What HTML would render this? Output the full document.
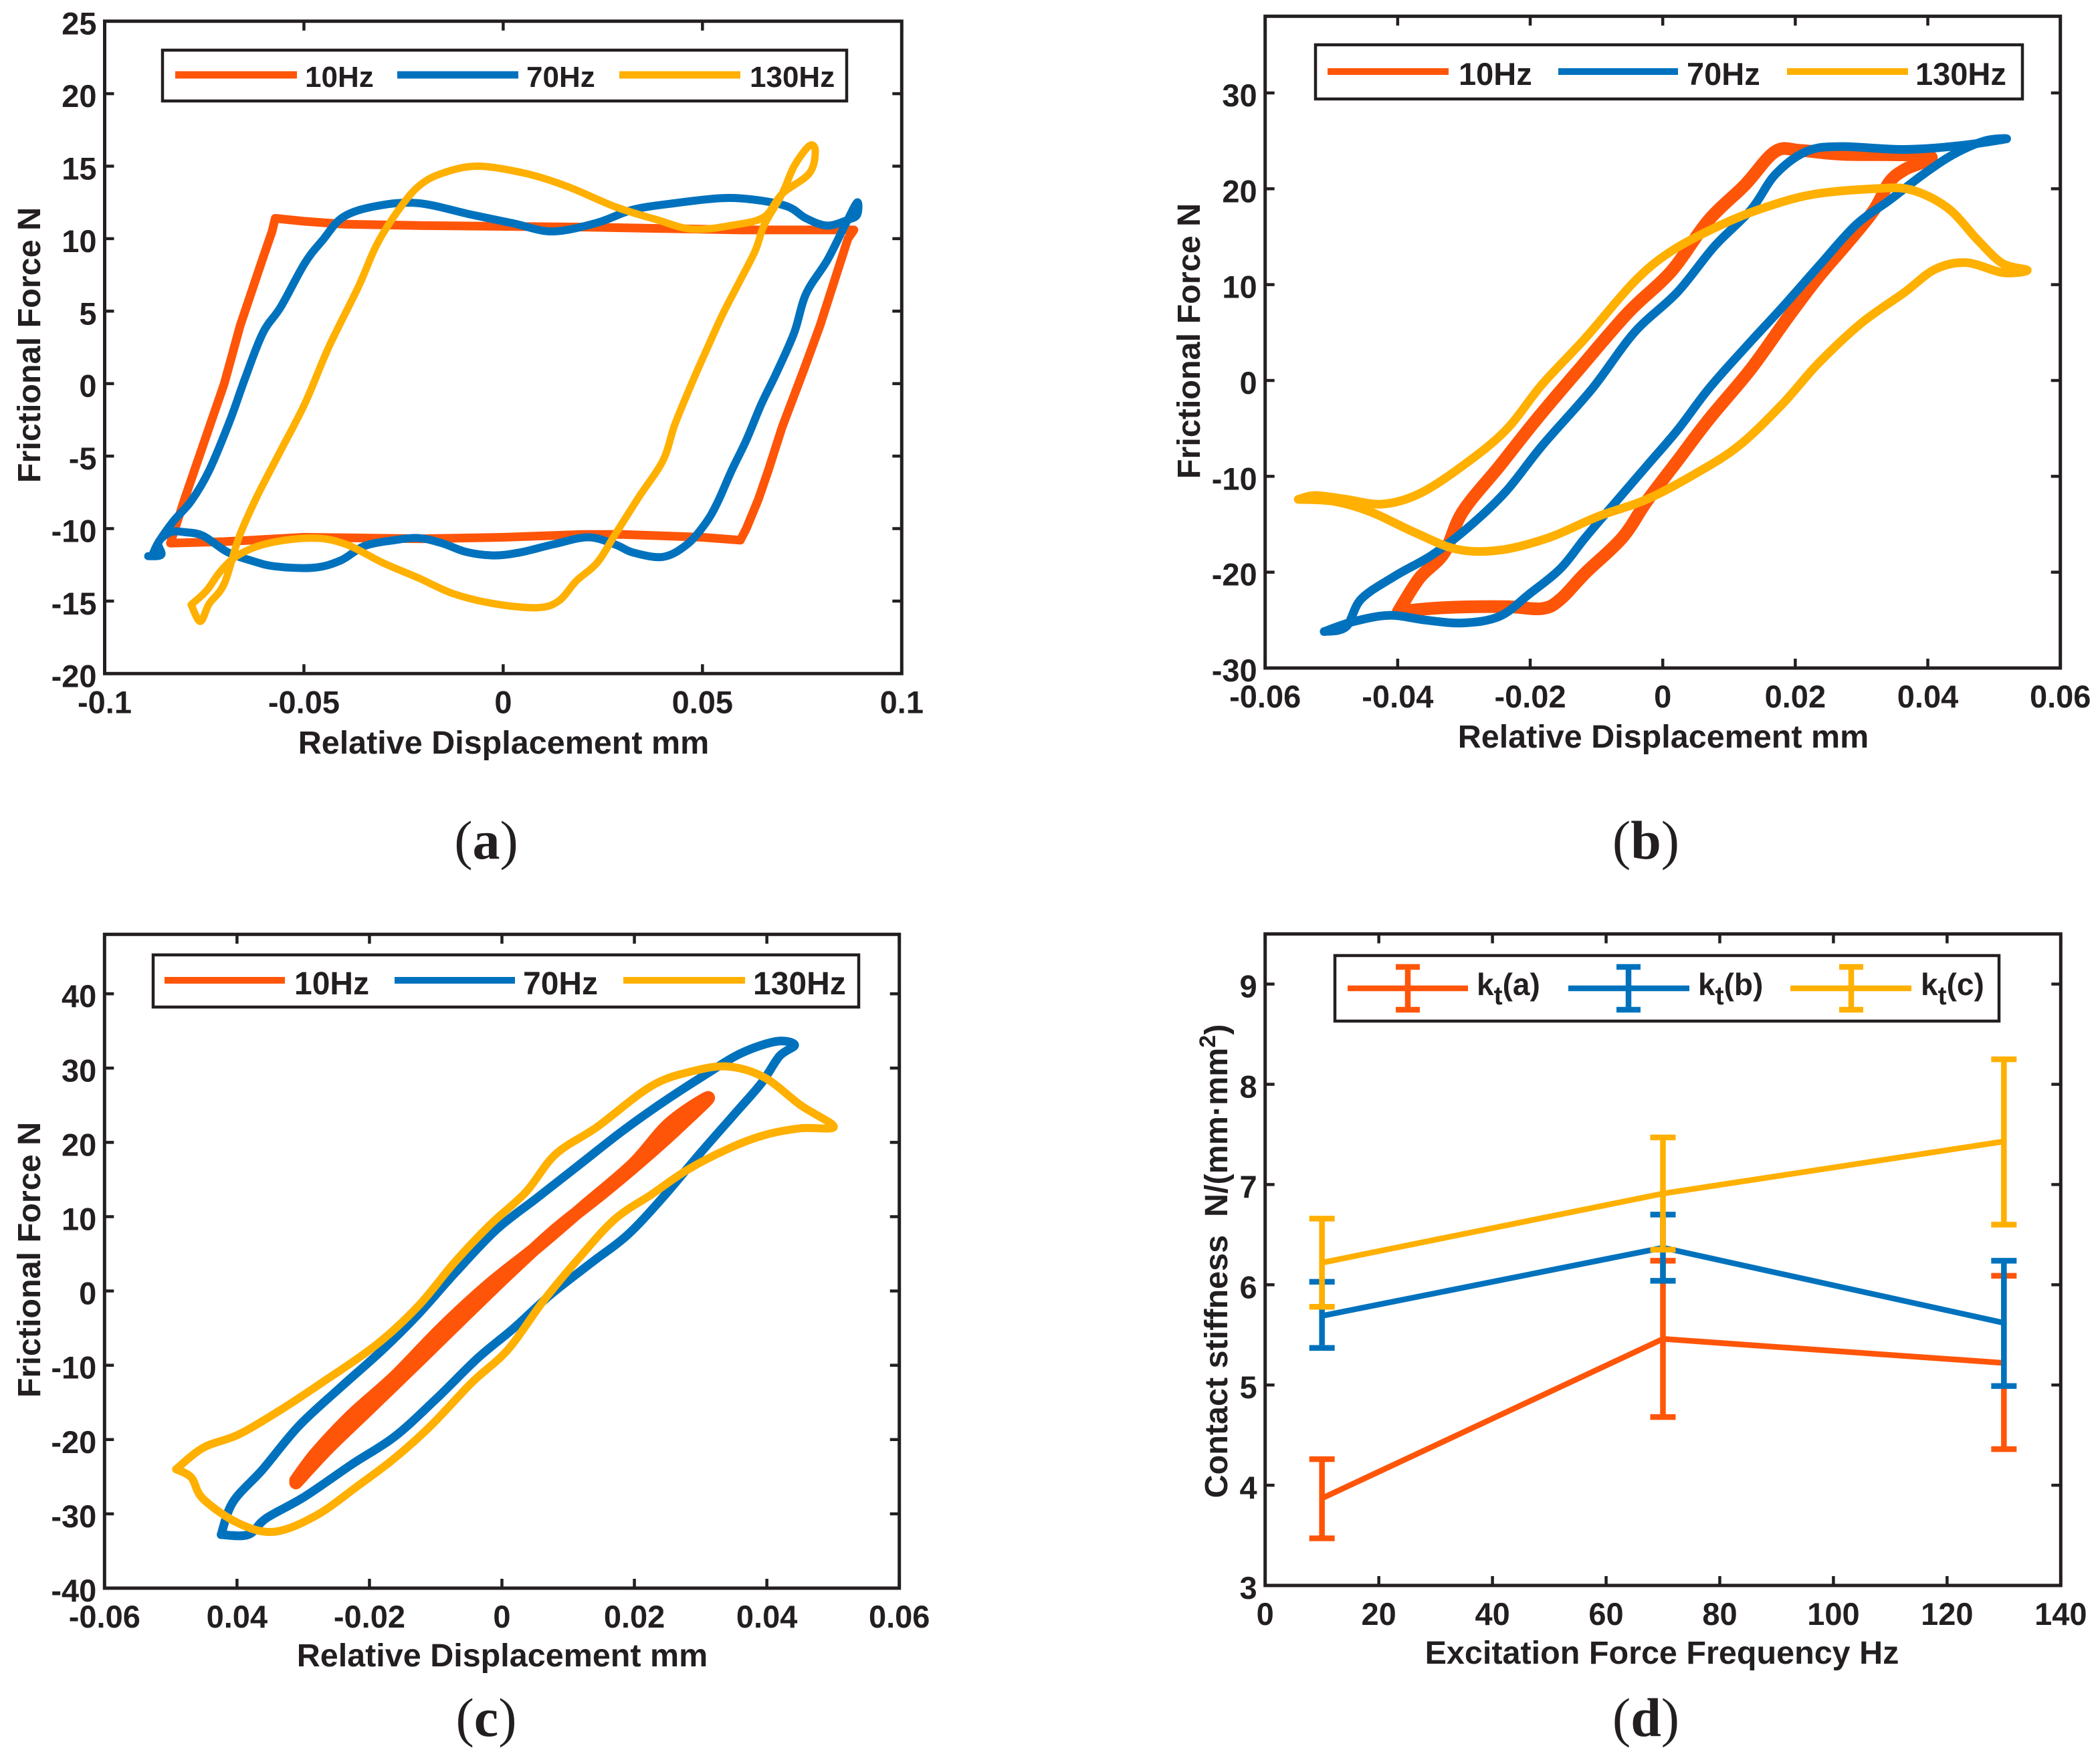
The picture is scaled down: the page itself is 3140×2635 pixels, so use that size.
<!DOCTYPE html>
<html lang="en">
<head>
<meta charset="utf-8">
<title>Frictional hysteresis loops and contact stiffness</title>
<style>
html,body{margin:0;padding:0;background:#fff;}
svg{display:block;}
text{font-family:"Liberation Sans",sans-serif;font-weight:bold;fill:#231f20;}
.cap{font-family:"Liberation Serif",serif;font-weight:normal;font-size:82px;text-anchor:middle;}
.cap tspan{font-weight:bold;}
.axt{font-size:48.5px;text-anchor:middle;}
</style>
</head>
<body>
<svg id="figure" xmlns="http://www.w3.org/2000/svg" width="3140" height="2635" viewBox="0 0 3140 2635">
<rect x="0" y="0" width="3140" height="2635" fill="#fff"/>

<g id="panel-a">
  <g id="a-marks"></g>
  <g id="a-axes"></g>
  <text class="axt" x="753" y="1127">Relative Displacement mm</text>
  <text class="axt" transform="translate(60,516) rotate(-90)">Frictional Force N</text>
  <g>
    <rect x="243" y="75" width="1023" height="76" fill="#fff" stroke="#231f20" stroke-width="4.5"/>
    <line x1="262" x2="444" y1="112" y2="112" stroke="#ff5509" stroke-width="11"/>
    <text x="456" y="130" font-size="44">10Hz</text>
    <line x1="594" x2="775" y1="112" y2="112" stroke="#0072bd" stroke-width="11"/>
    <text x="787" y="130" font-size="44">70Hz</text>
    <line x1="926" x2="1107" y1="112" y2="112" stroke="#ffb000" stroke-width="11"/>
    <text x="1121" y="130" font-size="44">130Hz</text>
  </g>
  <text class="cap" x="727" y="1284">(<tspan>a</tspan>)</text>
</g>

<g id="panel-b">
  <g id="b-marks"></g>
  <g id="b-axes"></g>
  <text class="axt" x="2487" y="1118">Relative Displacement mm</text>
  <text class="axt" transform="translate(1794,510) rotate(-90)">Frictional Force N</text>
  <g>
    <rect x="1967" y="67" width="1057" height="81" fill="#fff" stroke="#231f20" stroke-width="4.5"/>
    <line x1="1985" x2="2166" y1="107" y2="107" stroke="#ff5509" stroke-width="10"/>
    <text x="2181" y="127" font-size="47">10Hz</text>
    <line x1="2330" x2="2509" y1="107" y2="107" stroke="#0072bd" stroke-width="10"/>
    <text x="2522" y="127" font-size="47">70Hz</text>
    <line x1="2672" x2="2853" y1="107" y2="107" stroke="#ffb000" stroke-width="10"/>
    <text x="2864" y="127" font-size="47">130Hz</text>
  </g>
  <text class="cap" x="2461" y="1284">(<tspan>b</tspan>)</text>
</g>

<g id="panel-c">
  <g id="c-marks"></g>
  <g id="c-axes"></g>
  <text class="axt" x="751" y="2492">Relative Displacement mm</text>
  <text class="axt" transform="translate(60,1884) rotate(-90)">Frictional Force N</text>
  <g>
    <rect x="229" y="1428" width="1055" height="78" fill="#fff" stroke="#231f20" stroke-width="4.5"/>
    <line x1="246" x2="426" y1="1466" y2="1466" stroke="#ff5509" stroke-width="10"/>
    <text x="440" y="1487" font-size="48">10Hz</text>
    <line x1="590" x2="770" y1="1466" y2="1466" stroke="#0072bd" stroke-width="10"/>
    <text x="782" y="1487" font-size="48">70Hz</text>
    <line x1="932" x2="1114" y1="1466" y2="1466" stroke="#ffb000" stroke-width="10"/>
    <text x="1126" y="1487" font-size="48">130Hz</text>
  </g>
  <text class="cap" x="727" y="2596">(<tspan>c</tspan>)</text>
</g>

<g id="panel-d">
  <g id="d-marks"></g>
  <g id="d-axes"></g>
  <text class="axt" x="2485" y="2488">Excitation Force Frequency Hz</text>
  <text class="axt" transform="translate(1835,1886) rotate(-90)">Contact stiffness&#160;&#160;N/(mm·mm<tspan dy="-18" font-size="34">2</tspan><tspan dy="18">)</tspan></text>
  <g>
    <rect x="1996" y="1429" width="993" height="98" fill="#fff" stroke="#231f20" stroke-width="4.5"/>
    <g stroke="#ff5509" stroke-width="8.5" fill="none">
      <line x1="2015" x2="2195" y1="1478" y2="1478"/><line x1="2105" x2="2105" y1="1446" y2="1510"/><line x1="2087" x2="2123" y1="1446" y2="1446"/><line x1="2087" x2="2123" y1="1510" y2="1510"/>
    </g>
    <text x="2208" y="1488" font-size="46">k<tspan dy="14" font-size="39">t</tspan><tspan dy="-14">(a)</tspan></text>
    <g stroke="#0072bd" stroke-width="8.5" fill="none">
      <line x1="2345" x2="2526" y1="1478" y2="1478"/><line x1="2435" x2="2435" y1="1446" y2="1510"/><line x1="2417" x2="2453" y1="1446" y2="1446"/><line x1="2417" x2="2453" y1="1510" y2="1510"/>
    </g>
    <text x="2539" y="1488" font-size="46">k<tspan dy="14" font-size="39">t</tspan><tspan dy="-14">(b)</tspan></text>
    <g stroke="#ffb000" stroke-width="8.5" fill="none">
      <line x1="2677" x2="2858" y1="1478" y2="1478"/><line x1="2768" x2="2768" y1="1446" y2="1510"/><line x1="2750" x2="2786" y1="1446" y2="1446"/><line x1="2750" x2="2786" y1="1510" y2="1510"/>
    </g>
    <text x="2872" y="1488" font-size="46">k<tspan dy="14" font-size="39">t</tspan><tspan dy="-14">(c)</tspan></text>
  </g>
  <text class="cap" x="2461" y="2596">(<tspan>d</tspan>)</text>
</g>
</svg>

<script>
// Panel (a) data
const aX10 = [-0.0835,-0.08,-0.075,-0.07,-0.066,-0.0605,-0.058,-0.0572,-0.05,-0.04,-0.02,0,0.02,0.04,0.06,0.088,0.0865,0.083,0.0795,0.0755,0.07,0.0665,0.064,0.061,0.0595,0.05,0.03,0.02,0,-0.02,-0.05,-0.07,-0.0835];
const aY10 = [-11,-8,-4,0,4,8.5,10.5,11.4,11.2,11,10.9,10.85,10.8,10.7,10.6,10.6,10,7,4,1,-3,-6,-8,-10,-10.8,-10.6,-10.4,-10.4,-10.6,-10.7,-10.6,-10.9,-11];
const aX70 = [-0.0891,-0.0858,-0.0865,-0.0835,-0.0798,-0.0753,-0.0693,-0.0633,-0.0573,-0.0476,-0.0408,-0.0348,-0.0273,-0.0213,-0.0154,-0.0094,-0.0026,0.0041,0.0124,0.0213,0.0281,0.0326,0.0401,0.0461,0.0506,0.0536,0.0573,0.061,0.0648,0.0685,0.073,0.076,0.0813,0.0858,0.0888,0.0888,0.0865,0.0813,0.076,0.0715,0.064,0.0551,0.0431,0.0326,0.0236,0.0124,0.0026,-0.0079,-0.0213,-0.0318,-0.0401,-0.0453,-0.0498,-0.0558,-0.0603,-0.0648,-0.0685,-0.0738,-0.0783,-0.0828,-0.0865,-0.088];
const aY70 = [-11.9,-11.8,-10.95,-10.25,-10.25,-10.5,-11.6,-12.2,-12.6,-12.7,-12.2,-11.2,-10.8,-10.65,-11,-11.6,-11.85,-11.65,-11.1,-10.6,-11.1,-11.65,-11.95,-11.1,-9.7,-8.3,-6,-3.9,-1.4,0.7,3.5,6.2,8.5,10.95,12.5,11.65,11.3,10.9,11.4,12.2,12.65,12.8,12.45,12,11.1,10.5,11.05,11.65,12.45,12.25,11.5,9.9,8.3,5.3,3.5,0.35,-2.5,-6,-8.1,-9.5,-10.95,-11.8];
const aX130 = [-0.0783,-0.0745,-0.0708,-0.0663,-0.0588,-0.0476,-0.0393,-0.0303,-0.0213,-0.0124,-0.0019,0.0086,0.0139,0.0184,0.0236,0.0281,0.0341,0.0401,0.0431,0.0476,0.0513,0.0551,0.0596,0.0633,0.0655,0.07,0.073,0.0768,0.0783,0.0768,0.07,0.0655,0.0581,0.0476,0.0386,0.0281,0.0161,0.0056,-0.0064,-0.0154,-0.0213,-0.0266,-0.0318,-0.0363,-0.0438,-0.0498,-0.0558,-0.0618,-0.0663,-0.07,-0.0738,-0.076,-0.0783];
const aY130 = [-15.25,-14.3,-12.9,-11.8,-11,-10.65,-11.1,-12.35,-13.4,-14.5,-15.2,-15.45,-15,-13.6,-12.35,-10.4,-7.8,-5.3,-2.8,0.2,2.5,4.8,7.2,9.2,10.95,13.1,15,16.4,16.05,14.5,13.1,11.5,10.95,10.65,11.3,12.2,13.6,14.5,15,14.5,13.6,11.85,9.55,6.7,2.5,-1.4,-4.6,-7.8,-10.6,-13.8,-15.2,-16.4,-15.25];
const aXTicks = [-0.1,-0.05,0,0.05,0.1];
const aXLabels = ['-0.1','-0.05','0','0.05','0.1'];
const aYTicks = [-20,-15,-10,-5,0,5,10,15,20,25];
const aYLabels = ['-20','-15','-10','-5','0','5','10','15','20','25'];

// Panel (b) data
const bX10 = [-0.0399,-0.0367,-0.033,-0.0302,-0.0246,-0.0191,-0.0126,-0.0052,0.0013,0.0069,0.0124,0.017,0.0208,0.0272,0.0402,0.0365,0.0342,0.0319,0.0282,0.0235,0.0189,0.0133,0.0069,0.0022,-0.0024,-0.0061,-0.0117,-0.0154,-0.0182,-0.0237,-0.033,-0.0399];
const bY10 = [-24.1,-20.6,-18,-13.7,-8.9,-4.1,1.2,7.1,11.4,16.7,20.4,23.9,24,23.6,23.4,22,20.7,17.8,14.6,10.8,6.6,1.2,-4.1,-8.4,-12.6,-16.4,-20.1,-22.8,-23.8,-23.6,-23.7,-24.1];
const bX70 = [-0.0511,-0.0478,-0.0455,-0.0404,-0.0348,-0.0293,-0.0237,-0.0182,-0.0107,-0.0043,0.0022,0.0078,0.0133,0.017,0.0217,0.0268,0.0365,0.0448,0.0518,0.0486,0.0439,0.0393,0.0342,0.0291,0.0235,0.018,0.0124,0.0069,0.0022,-0.0024,-0.007,-0.0117,-0.0154,-0.02,-0.0246,-0.0302,-0.0358,-0.0413,-0.0469,-0.0511];
const bY70 = [-26.2,-25.7,-22.8,-20.4,-18.2,-15.3,-11.6,-6.8,-0.9,5,9.2,14,17.8,21.5,23.9,24.4,24.1,24.5,25.2,25,23.6,21.5,18.8,16.2,11.9,7.6,3.4,-0.9,-5.2,-8.9,-12.6,-16.4,-19.6,-22.2,-24.6,-25.3,-25,-24.5,-25.2,-26.2];
const bX130 = [-0.055,-0.0524,-0.0478,-0.0423,-0.0367,-0.0302,-0.0237,-0.0182,-0.0117,-0.0043,0.0013,0.0087,0.0152,0.0226,0.0319,0.0374,0.043,0.0476,0.0513,0.055,0.0513,0.0458,0.0411,0.0365,0.03,0.0235,0.018,0.0115,0.005,-0.0024,-0.0098,-0.0172,-0.0246,-0.0311,-0.0376,-0.0441,-0.0497,-0.055];
const bY130 = [-12.4,-12,-12.4,-12.9,-11.8,-8.9,-5.2,-0.4,4.4,10.3,13.5,16.2,18,19.4,20,19.9,18,14.6,12.2,11.5,11.25,12.3,11.6,9.2,6,1.8,-2.5,-6.8,-9.7,-12.4,-14.2,-16.4,-17.7,-17.6,-15.8,-13.7,-12.6,-12.4];
const bXTicks = [-0.06,-0.04,-0.02,0,0.02,0.04,0.06];
const bXLabels = ['-0.06','-0.04','-0.02','0','0.02','0.04','0.06'];
const bYTicks = [-30,-20,-10,0,10,20,30];
const bYLabels = ['-30','-20','-10','0','10','20','30'];

// Panel (c) data
const cX10 = [-0.0311,-0.028,-0.0226,-0.0162,-0.009,-0.0018,0.0054,0.0126,0.0198,0.0253,0.0311,0.028,0.0226,0.0153,0.0081,0.0009,-0.0063,-0.0126,-0.0198,-0.0262,-0.0311];
const cY10 = [-25.5,-21.8,-16.7,-11.6,-5,0.9,6,11.5,17,22.5,26,23.2,18.8,13.3,8.2,2.3,-3.9,-9.4,-15.6,-21.1,-25.8];
const cX70 = [-0.0424,-0.0383,-0.0356,-0.0298,-0.0226,-0.0162,-0.0099,-0.0036,0.0018,0.0072,0.0135,0.0189,0.0243,0.0298,0.0352,0.0392,0.0419,0.0442,0.0415,0.0361,0.0307,0.0243,0.018,0.0117,0.0054,-0.0009,-0.0072,-0.0126,-0.018,-0.0244,-0.0307,-0.0361,-0.0406,-0.0424];
const cY70 = [-32.8,-32.8,-30.6,-27.7,-23.3,-19.6,-14.5,-9,-5,-0.6,3.8,7.5,12.6,18.4,23.9,28,31.6,33.1,33.6,32,29.1,25.4,21.4,17,12.6,8.2,2.3,-3.1,-7.9,-13,-18.2,-24,-28.4,-32.8];
const cX130 = [-0.0492,-0.0451,-0.0397,-0.0334,-0.0271,-0.0189,-0.0126,-0.0072,-0.0018,0.0036,0.0081,0.0144,0.0226,0.0289,0.0343,0.0397,0.0451,0.0501,0.0451,0.0397,0.0343,0.028,0.0226,0.0171,0.0117,0.0063,0.0009,-0.0045,-0.0108,-0.0162,-0.0217,-0.028,-0.0343,-0.0397,-0.0451,-0.0469,-0.0492];
const cY130 = [-24,-21.1,-19.3,-16,-12.3,-7.2,-2,3.8,8.9,13.3,18.4,22.1,27.6,29.6,30.2,28.7,25,22.1,21.9,21,19.2,16.3,13,9.7,4.5,-1.3,-7.9,-12.3,-18.2,-22.5,-26.2,-30.2,-32.4,-31.3,-28,-25.1,-24];
const cXTicks = [-0.06,-0.04,-0.02,0,0.02,0.04,0.06];
const cXLabels = ['-0.06','0.04','-0.02','0','0.02','0.04','0.06'];
const cYTicks = [-40,-30,-20,-10,0,10,20,30,40];
const cYLabels = ['-40','-30','-20','-10','0','10','20','30','40'];

// Panel (d) data
const dFreq = [10,70,130];
const dKtA = [3.87,5.46,5.22];
const dKtALow = [3.47,4.68,4.36];
const dKtAHigh = [4.26,6.24,6.09];
const dKtB = [5.69,6.37,5.62];
const dKtBLow = [5.37,6.04,4.99];
const dKtBHigh = [6.03,6.70,6.24];
const dKtC = [6.22,6.91,7.43];
const dKtCLow = [5.78,6.35,6.60];
const dKtCHigh = [6.66,7.47,8.25];
const dXTicks = [0,20,40,60,80,100,120,140];
const dXLabels = ['0','20','40','60','80','100','120','140'];
const dYTicks = [3,4,5,6,7,8,9];
const dYLabels = ['3','4','5','6','7','8','9'];

const NS = 'http://www.w3.org/2000/svg';
const ORANGE = '#ff5509', BLUE = '#0072bd', YELLOW = '#ffb000', INK = '#231f20';

function makeScale(left, right, top, bottom, x0, x1, y0, y1) {
  return {
    left, right, top, bottom,
    x: v => left + (v - x0) / (x1 - x0) * (right - left),
    y: v => bottom - (v - y0) / (y1 - y0) * (bottom - top)
  };
}

function pathFrom(sc, xs, ys, smooth) {
  const px = xs.map(sc.x), py = ys.map(sc.y);
  const n = px.length;
  let d = 'M' + px[0].toFixed(1) + ' ' + py[0].toFixed(1);
  for (let i = 0; i < n - 1; i++) {
    if (!smooth) {
      d += 'L' + px[i + 1].toFixed(1) + ' ' + py[i + 1].toFixed(1);
      continue;
    }
    const a = Math.max(i - 1, 0), b = Math.min(i + 2, n - 1);
    const c1x = px[i] + (px[i + 1] - px[a]) / 6, c1y = py[i] + (py[i + 1] - py[a]) / 6;
    const c2x = px[i + 1] - (px[b] - px[i]) / 6, c2y = py[i + 1] - (py[b] - py[i]) / 6;
    d += 'C' + c1x.toFixed(1) + ' ' + c1y.toFixed(1) + ' ' + c2x.toFixed(1) + ' ' + c2y.toFixed(1) + ' ' + px[i + 1].toFixed(1) + ' ' + py[i + 1].toFixed(1);
  }
  return d;
}

function drawSeries(parent, sc, xs, ys, color, width, name, smooth) {
  const p = document.createElementNS(NS, 'path');
  p.setAttribute('d', pathFrom(sc, xs, ys, smooth));
  p.setAttribute('fill', 'none');
  p.setAttribute('stroke', color);
  p.setAttribute('stroke-width', width);
  p.setAttribute('stroke-linejoin', 'round');
  p.setAttribute('stroke-linecap', 'round');
  
  
  parent.appendChild(p);
}

function addLine(parent, x1, y1, x2, y2, color, width, name) {
  const l = document.createElementNS(NS, 'line');
  l.setAttribute('x1', x1);
  l.setAttribute('y1', y1);
  l.setAttribute('x2', x2);
  l.setAttribute('y2', y2);
  l.setAttribute('stroke', color);
  l.setAttribute('stroke-width', width);
  
  
  parent.appendChild(l);
}

function addTickLabel(parent, x, y, anchor, label, name) {
  const t = document.createElementNS(NS, 'text');
  t.setAttribute('x', x);
  t.setAttribute('y', y);
  t.setAttribute('text-anchor', anchor);
  t.setAttribute('font-size', '47');
  
  
  t.textContent = label;
  parent.appendChild(t);
}

function drawAxes(parent, sc, xTicks, xLabels, yTicks, yLabels) {
  const TL = 14, TW = 4.5;
  xTicks.forEach((v, i) => {
    const x = sc.x(v);
    addLine(parent, x, sc.bottom, x, sc.bottom - TL, INK, TW, 'x-tick');
    addLine(parent, x, sc.top, x, sc.top + TL, INK, TW, 'x-tick-top');
    addTickLabel(parent, x, sc.bottom + 59, 'middle', xLabels[i], 'x-tick-label');
  });
  yTicks.forEach((v, i) => {
    const y = sc.y(v);
    addLine(parent, sc.left, y, sc.left + TL, y, INK, TW, 'y-tick');
    addLine(parent, sc.right, y, sc.right - TL, y, INK, TW, 'y-tick-right');
    addTickLabel(parent, sc.left - 12, y + 20, 'end', yLabels[i], 'y-tick-label');
  });
  const r = document.createElementNS(NS, 'rect');
  r.setAttribute('x', sc.left);
  r.setAttribute('y', sc.top);
  r.setAttribute('width', sc.right - sc.left);
  r.setAttribute('height', sc.bottom - sc.top);
  r.setAttribute('fill', 'none');
  r.setAttribute('stroke', INK);
  r.setAttribute('stroke-width', '5');
  
  
  parent.appendChild(r);
}

function drawErrorSeries(parent, sc, xs, ys, lows, highs, color, name) {
  const W = 8.5, CAP = 19;
  drawSeries(parent, sc, xs, ys, color, W, name + '-line', false);
  xs.forEach((v, i) => {
    const x = sc.x(v), yl = sc.y(lows[i]), yh = sc.y(highs[i]);
    addLine(parent, x, yl, x, yh, color, W, name + '-error-bar');
    addLine(parent, x - CAP, yl, x + CAP, yl, color, W, name + '-error-cap-low');
    addLine(parent, x - CAP, yh, x + CAP, yh, color, W, name + '-error-cap-high');
  });
}

const scaleA = makeScale(156.5, 1348.3, 31.7, 1007.3, -0.1, 0.1, -20, 25);
const scaleB = makeScale(1891.7, 3080.7, 24.3, 999, -0.06, 0.06, -30, 38);
const scaleC = makeScale(156.3, 1344.7, 1397.3, 2375, -0.06, 0.06, -40, 48);
const scaleD = makeScale(1891.7, 3081.3, 1396.7, 2371, 0, 140, 3, 9.5);

const mA = document.getElementById('a-marks');
drawSeries(mA, scaleA, aX10, aY10, ORANGE, 13, 'series-10hz', false);
drawSeries(mA, scaleA, aX70, aY70, BLUE, 12, 'series-70hz', true);
drawSeries(mA, scaleA, aX130, aY130, YELLOW, 11, 'series-130hz', true);
drawAxes(document.getElementById('a-axes'), scaleA, aXTicks, aXLabels, aYTicks, aYLabels);

const mB = document.getElementById('b-marks');
drawSeries(mB, scaleB, bX10, bY10, ORANGE, 19, 'series-10hz', true);
drawSeries(mB, scaleB, bX70, bY70, BLUE, 13, 'series-70hz', true);
drawSeries(mB, scaleB, bX130, bY130, YELLOW, 13, 'series-130hz', true);
drawAxes(document.getElementById('b-axes'), scaleB, bXTicks, bXLabels, bYTicks, bYLabels);

const mC = document.getElementById('c-marks');
drawSeries(mC, scaleC, cX10, cY10, ORANGE, 20, 'series-10hz', true);
drawSeries(mC, scaleC, cX70, cY70, BLUE, 13, 'series-70hz', true);
drawSeries(mC, scaleC, cX130, cY130, YELLOW, 12, 'series-130hz', true);
drawAxes(document.getElementById('c-axes'), scaleC, cXTicks, cXLabels, cYTicks, cYLabels);

const mD = document.getElementById('d-marks');
drawErrorSeries(mD, scaleD, dFreq, dKtA, dKtALow, dKtAHigh, ORANGE, 'series-kt-a');
drawErrorSeries(mD, scaleD, dFreq, dKtB, dKtBLow, dKtBHigh, BLUE, 'series-kt-b');
drawErrorSeries(mD, scaleD, dFreq, dKtC, dKtCLow, dKtCHigh, YELLOW, 'series-kt-c');
drawAxes(document.getElementById('d-axes'), scaleD, dXTicks, dXLabels, dYTicks, dYLabels);
</script>
</body>
</html>
